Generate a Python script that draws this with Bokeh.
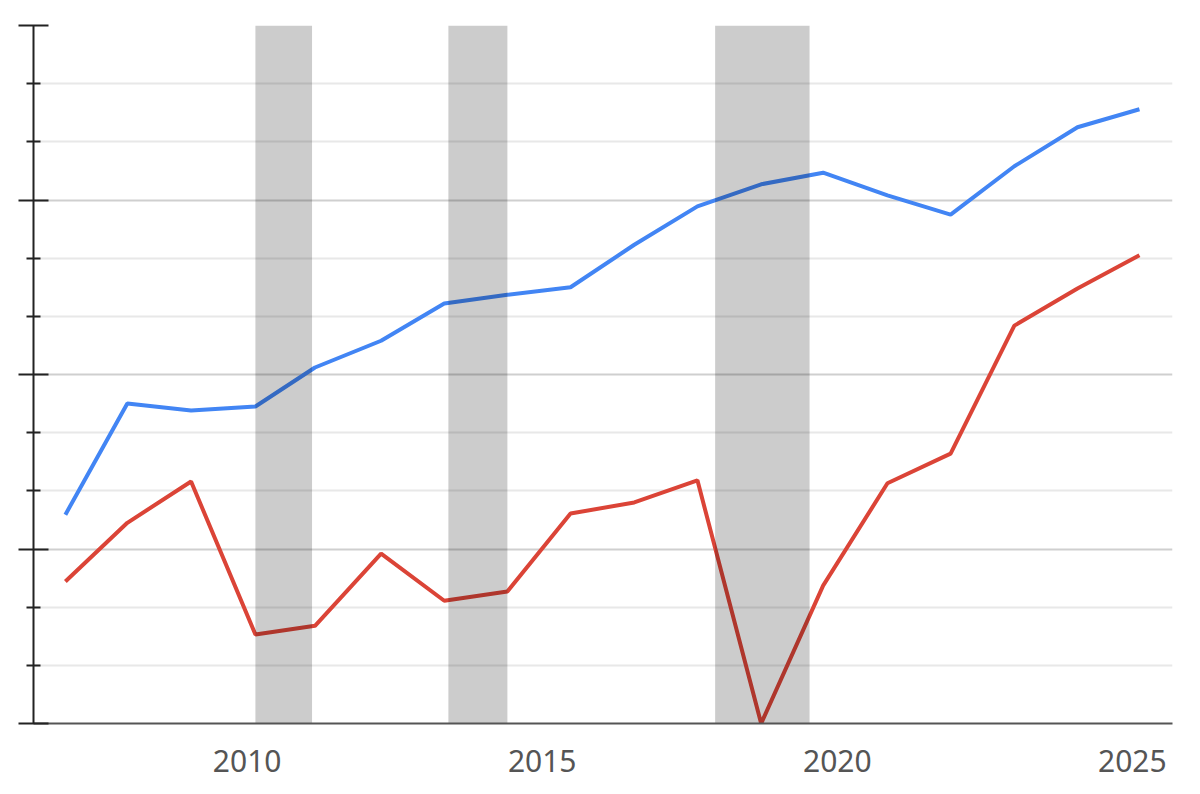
from bokeh.plotting import figure
from bokeh.models import FixedTicker, Range1d
from bokeh.embed import file_html
from bokeh.resources import INLINE

# ---- data ----
years = [2006.92, 2007.97, 2009.05, 2010.14, 2011.15, 2012.27, 2013.34, 2014.41,
         2015.48, 2016.56, 2017.63, 2018.71, 2019.76, 2020.85, 2021.92, 2023.00,
         2024.07, 2025.12]
blue_vals = [3.59, 5.50, 5.38, 5.45, 6.12, 6.58, 7.22, 7.37, 7.50, 8.23, 8.89,
             9.27, 9.47, 9.08, 8.75, 9.58, 10.25, 10.56]
red_vals = [2.44, 3.45, 4.16, 1.53, 1.68, 2.92, 2.11, 2.27, 3.61, 3.80, 4.18,
            0.00, 2.37, 4.13, 4.64, 6.84, 7.48, 8.05]
band_start = [2010.14, 2013.41, 2017.93]
band_end = [2011.10, 2014.41, 2019.53]
x_ticks = [2010, 2015, 2020, 2025]
y_major = [0, 3, 6, 9, 12]
y_minor = [1, 2, 4, 5, 7, 8, 10, 11]

p = figure(width=1184, height=783, output_backend="svg", toolbar_location=None,
           x_range=Range1d(2006.38, 2025.68), y_range=Range1d(0, 12),
           min_border_left=33, min_border_right=12, min_border_top=25,
           min_border_bottom=60)
p.outline_line_color = None
p.background_fill_color = "white"
p.border_fill_color = "white"

# lines
p.line(years, blue_vals, line_color="#4285F4", line_width=4)
p.line(years, red_vals, line_color="#DB4437", line_width=4)

# shaded bands drawn over
p.quad(left=band_start, right=band_end, bottom=[0] * len(band_start),
       top=[12] * len(band_start), fill_color="black", fill_alpha=0.2,
       line_color=None)

# x axis
p.xaxis.ticker = FixedTicker(ticks=x_ticks)
p.xaxis.major_tick_line_color = None
p.xaxis.minor_tick_line_color = None
p.xaxis.major_tick_out = 0
p.xaxis.major_tick_in = 0
p.xaxis.axis_line_color = "#555555"
p.xaxis.axis_line_width = 2
p.xaxis.major_label_text_font = "Noto Sans"
p.xaxis.major_label_text_font_size = "30px"
p.xaxis.major_label_text_color = "#555555"
p.xaxis.major_label_standoff = 26

# y axis
p.yaxis.ticker = FixedTicker(ticks=y_major, minor_ticks=y_minor)
p.yaxis.axis_line_color = "#222222"
p.yaxis.axis_line_width = 2
p.yaxis.major_tick_line_color = "#222222"
p.yaxis.major_tick_line_width = 2
p.yaxis.major_tick_in = 15
p.yaxis.major_tick_out = 15
p.yaxis.minor_tick_line_color = "#222222"
p.yaxis.minor_tick_line_width = 2
p.yaxis.minor_tick_in = 7
p.yaxis.minor_tick_out = 7
p.yaxis.major_label_overrides = {t: "" for t in y_major}
p.yaxis.major_label_standoff = 0

# grids
p.xgrid.grid_line_color = None
p.ygrid.grid_line_color = "#cfcfcf"
p.ygrid.grid_line_width = 2
p.ygrid.minor_grid_line_color = "#e8e8e8"
p.ygrid.minor_grid_line_width = 2

open("out.html", "w").write(file_html(p, INLINE))
